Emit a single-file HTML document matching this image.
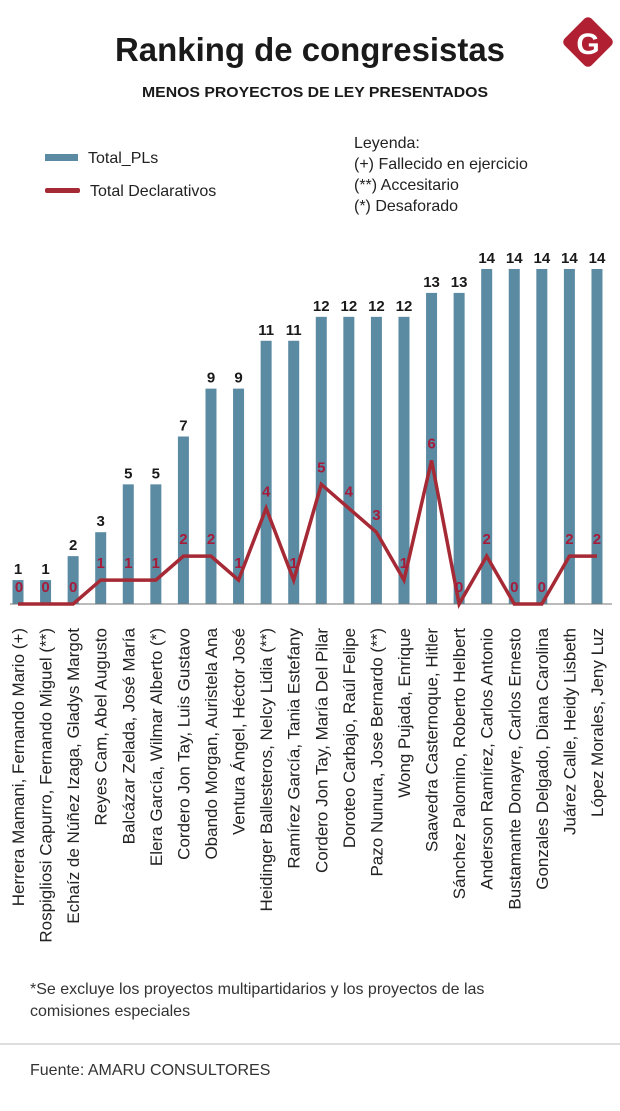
<!DOCTYPE html>
<html><head><meta charset="utf-8">
<style>
body{margin:0;background:#fff;width:620px;height:1106px;overflow:hidden;font-family:"Liberation Sans",sans-serif}
</style></head>
<body>
<svg id="chart" width="620" height="1106" xmlns="http://www.w3.org/2000/svg" font-family="Liberation Sans, sans-serif">
<text x="310" y="61" text-anchor="middle" font-size="33" font-weight="bold" fill="#1a1a1a" textLength="390" lengthAdjust="spacingAndGlyphs">Ranking de congresistas</text>
<text x="315" y="97" text-anchor="middle" font-size="15" font-weight="bold" fill="#1a1a1a" textLength="346" lengthAdjust="spacingAndGlyphs">MENOS PROYECTOS DE LEY PRESENTADOS</text>
<g>
<rect x="569" y="23" width="38" height="38" rx="5" fill="#b01f32" transform="rotate(45 588 42)"/>
<text x="588" y="54" text-anchor="middle" font-size="30" font-weight="bold" fill="#fff">G</text>
</g>
<g>
<rect x="45" y="154" width="33" height="7" fill="#5b8aa3"/>
<text x="88" y="163" font-size="16" fill="#222">Total_PLs</text>
<rect x="45" y="188" width="35" height="5" rx="2" fill="#a52a35"/>
<text x="90" y="196" font-size="16" fill="#222">Total Declarativos</text>
</g>
<g font-size="16" fill="#222">
<text x="354" y="148">Leyenda:</text>
<text x="354" y="169">(+) Fallecido en ejercicio</text>
<text x="354" y="190">(**) Accesitario</text>
<text x="354" y="211">(*) Desaforado</text>
</g>
<g id="plot"></g>
<text x="30" y="994" font-size="16" fill="#333">*Se excluye los proyectos multipartidarios y los proyectos de las</text>
<text x="30" y="1016" font-size="16" fill="#333">comisiones especiales</text>
<line x1="0" y1="1044" x2="620" y2="1044" stroke="#bbb" stroke-width="1"/>
<text x="30" y="1075" font-size="16" fill="#333">Fuente: AMARU CONSULTORES</text>
</svg>
<script>
const categories=["Herrera Mamani, Fernando Mario (+)","Rospigliosi Capurro, Fernando Miguel (**)","Echaíz de Núñez Izaga, Gladys Margot","Reyes Cam, Abel Augusto","Balcázar Zelada, José María","Elera García, Wilmar Alberto (*)","Cordero Jon Tay, Luis Gustavo","Obando Morgan, Auristela Ana","Ventura Ángel, Héctor José","Heidinger Ballesteros, Nelcy Lidia (**)","Ramírez García, Tania Estefany","Cordero Jon Tay, María Del Pilar","Doroteo Carbajo, Raúl Felipe","Pazo Nunura, Jose Bernardo (**)","Wong Pujada, Enrique","Saavedra Casternoque, Hitler","Sánchez Palomino, Roberto Helbert","Anderson Ramírez, Carlos Antonio","Bustamante Donayre, Carlos Ernesto","Gonzales Delgado, Diana Carolina","Juárez Calle, Heidy Lisbeth","López Morales, Jeny Luz"];
const totalPLs=[1,1,2,3,5,5,7,9,9,11,11,12,12,12,12,13,13,14,14,14,14,14];
const totalDecl=[0,0,0,1,1,1,2,2,1,4,1,5,4,3,1,6,0,2,0,0,2,2];
const NS="http://www.w3.org/2000/svg";
const plot=document.getElementById('plot');
const x0=18,step=27.57,base=604,unit=23.93,bw=11;
const xs=i=>x0+i*step;
const ys=v=>base-v*unit;
function mk(t,a){const e=document.createElementNS(NS,t);for(const k in a)e.setAttribute(k,a[k]);plot.appendChild(e);return e;}
totalPLs.forEach((v,i)=>{
 const r=mk('rect',{x:xs(i)-bw/2,y:ys(v),width:bw,height:base-ys(v),fill:'#5b8aa3'});
 
 
});
const ax=mk('line',{x1:10,y1:base,x2:612,y2:base,stroke:'#777','stroke-width':1});


const pts=totalDecl.map((v,i)=>xs(i)+','+ys(v)).join(' ');
const pl=mk('polyline',{points:pts,fill:'none',stroke:'#a52a35','stroke-width':3.5,'stroke-linejoin':'miter'});


totalPLs.forEach((v,i)=>{
 const t=mk('text',{x:xs(i),y:ys(v)-6,'text-anchor':'middle','font-size':15,'font-weight':'bold',fill:'#1a1a1a'});
 t.textContent=v;
 
 
});
totalDecl.forEach((v,i)=>{
 const t=mk('text',{x:xs(i)+(i===0?1:0),y:ys(v)-12,'text-anchor':'middle','font-size':15,'font-weight':'bold',fill:'#a51c3a'});
 t.textContent=v;
 
 
});
categories.forEach((c,i)=>{
 const t=mk('text',{x:0,y:0,'text-anchor':'end','font-size':17,fill:'#222',transform:`translate(${xs(i)+6},628) rotate(-90)`});
 t.textContent=c;
 
 
});
</script>
</body></html>
